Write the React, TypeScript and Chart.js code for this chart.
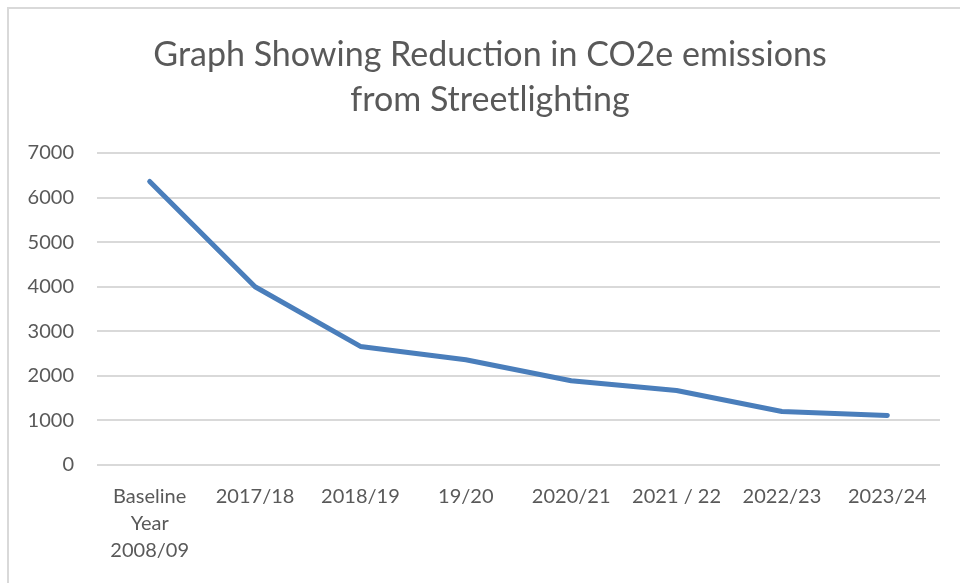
import React, { useEffect, useRef } from 'react';
import { Chart, registerables } from 'chart.js';

Chart.register(...registerables);

const categories: (string | string[])[] = [
  ['Baseline', 'Year', '2008/09'],
  '2017/18',
  '2018/19',
  '19/20',
  '2020/21',
  '2021 / 22',
  '2022/23',
  '2023/24',
];
const emissions = [6360, 4000, 2660, 2360, 1890, 1670, 1200, 1110];
const titleLines = ['Graph Showing Reduction in CO2e emissions', 'from Streetlighting'];
const yMin = 0;
const yMax = 7000;
const yStep = 1000;

const FONT = 'Lato, "Open Sans", sans-serif';
const TEXT = '#595959';

export default function App() {
  const ref = useRef<HTMLCanvasElement | null>(null);

  useEffect(() => {
    if (!ref.current) return;
    const titlePlugin = {
      id: 'customTitle',
      afterDraw(chart: any) {
        const ctx = chart.ctx;
        ctx.save();
        ctx.fillStyle = TEXT;
        ctx.font = `34px ${FONT}`;
        ctx.textAlign = 'center';
        ctx.textBaseline = 'alphabetic';
        ctx.fillText(titleLines[0], 490, 66);
        ctx.fillText(titleLines[1], 490, 111);
        ctx.restore();
      },
    };
    const chart = new Chart(ref.current, {
      type: 'line',
      data: {
        labels: categories,
        datasets: [
          {
            label: 'CO2e',
            data: emissions,
            borderColor: '#4a7ebb',
            backgroundColor: '#4a7ebb',
            borderWidth: 5,
            borderCapStyle: 'round',
            borderJoinStyle: 'round',
            pointRadius: 0,
            pointHoverRadius: 0,
            tension: 0,
          },
        ],
      },
      options: {
        responsive: false,
        animation: false,
        layout: { padding: { top: 153, right: 20, bottom: 0, left: 0 } },
        plugins: {
          legend: { display: false },
          title: { display: false },
          tooltip: { enabled: false },
        },
        scales: {
          x: {
            offset: true,
            grid: { display: false, drawTicks: false },
            border: { display: false },
            ticks: {
              color: TEXT,
              font: { family: FONT, size: 20, lineHeight: 1.35 },
              padding: 18,
              maxRotation: 0,
              autoSkip: false,
            },
            afterFit(scale: any) {
              scale.height = 118;
            },
          },
          y: {
            min: yMin,
            max: yMax,
            grid: { color: '#d9d9d9', lineWidth: 2, drawTicks: false },
            border: { display: false },
            ticks: {
              stepSize: yStep,
              color: TEXT,
              font: { family: FONT, size: 20 },
              padding: 23,
              callback: (v: any) => String(v),
            },
            afterFit(scale: any) {
              scale.width = 97;
            },
          },
        },
      },
      plugins: [titlePlugin],
    });
    return () => chart.destroy();
  }, []);

  return (
    <div style={{ position: 'fixed', left: 0, top: 0, width: 960, height: 583, background: '#fff' }}>
      <div
        style={{
          position: 'absolute',
          left: 7,
          top: 7,
          right: 0,
          bottom: 0,
          borderTop: '2px solid #d9d9d9',
          borderLeft: '2px solid #d9d9d9',
        }}
      />
      <canvas ref={ref} width={960} height={583} style={{ position: 'absolute', left: 0, top: 0 }} />
    </div>
  );
}
